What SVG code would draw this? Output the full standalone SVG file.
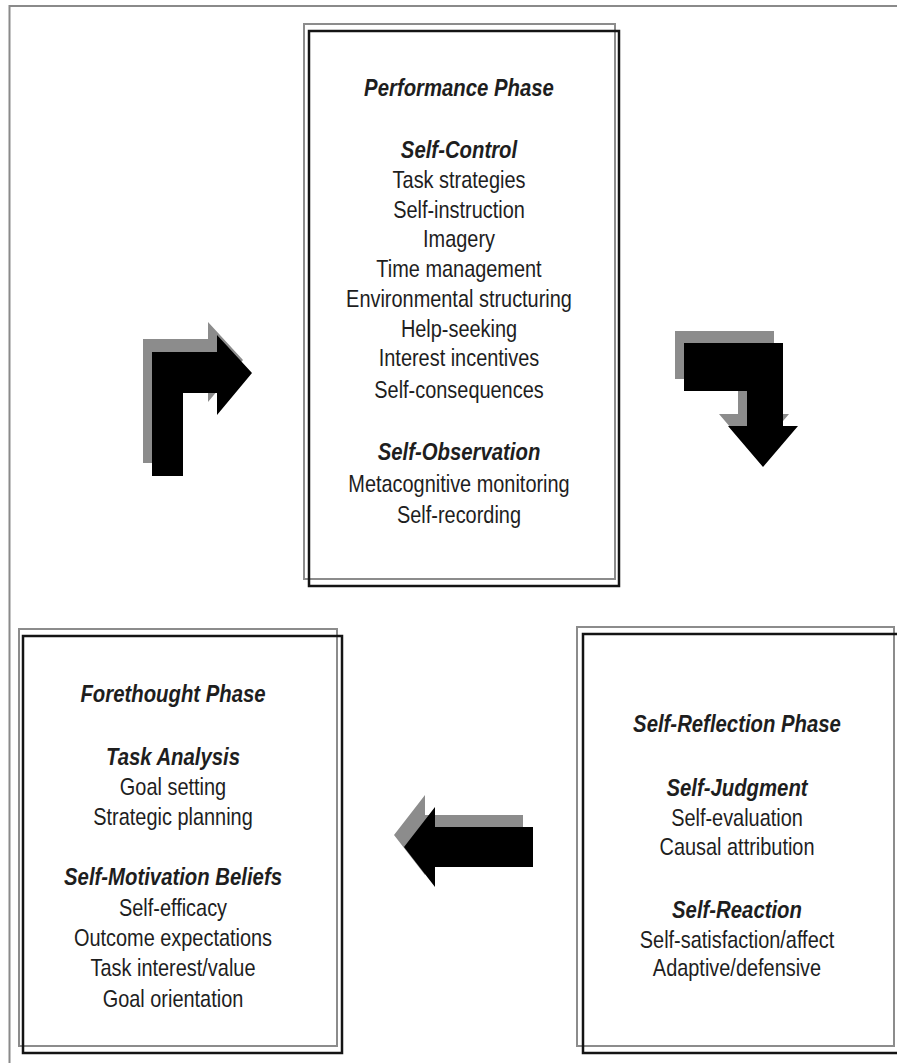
<svg xmlns="http://www.w3.org/2000/svg" xmlns:xlink="http://www.w3.org/1999/xlink" width="897" height="1063" viewBox="0 0 897 1063">
<style>
  text { font-family: "Liberation Sans", Arial, sans-serif; font-size: 24px; fill: #1e1e1e; text-anchor: middle; }
  .h { font-weight: bold; font-style: italic; font-size: 24.5px; }
  .frame { fill: none; stroke: #8a8a8a; stroke-width: 2; }
  .outer { fill: none; stroke: #8c8c8c; stroke-width: 2; }
  .inner { fill: none; stroke: #141414; stroke-width: 2.5; }
  .shadow { fill: #8c8c8c; }
  .arrow { fill: #000; }
</style>
<defs>
  <polygon id="a1" points="152,476 152,352 217,352 217,335 252,373 217,415 217,393 183,393 183,476"/>
  <polygon id="a2" points="684,343 783,343 783,426 798,426 763,467 728,426 747,426 747,391 684,391"/>
  <polygon id="a3" points="404,847 435,807 435,827 533,827 533,867 435,867 435,887"/>
</defs>
<rect width="897" height="1063" fill="#ffffff"/>
<polyline class="frame" points="9.5,1063 9.5,6 897,6"/>

<g id="performance">
  <rect class="outer" x="304" y="24" width="311" height="555"/>
  <rect class="inner" x="309" y="31" width="310" height="555"/>
  <g transform="translate(459 0) scale(0.83 1)">
    <text class="h" x="0" y="96">Performance Phase</text>
    <text class="h" x="0" y="158">Self-Control</text>
    <text x="0" y="188">Task strategies</text>
    <text x="0" y="218">Self-instruction</text>
    <text x="0" y="247">Imagery</text>
    <text x="0" y="277">Time management</text>
    <text x="0" y="307">Environmental structuring</text>
    <text x="0" y="337">Help-seeking</text>
    <text x="0" y="366">Interest incentives</text>
    <text x="0" y="398">Self-consequences</text>
    <text class="h" x="0" y="460">Self-Observation</text>
    <text x="0" y="492">Metacognitive monitoring</text>
    <text x="0" y="523">Self-recording</text>
  </g>
</g>

<g id="forethought">
  <rect class="outer" x="19" y="629" width="318" height="417"/>
  <rect class="inner" x="23" y="636" width="319" height="417"/>
  <g transform="translate(173 0) scale(0.83 1)">
    <text class="h" x="0" y="702">Forethought Phase</text>
    <text class="h" x="0" y="765">Task Analysis</text>
    <text x="0" y="795">Goal setting</text>
    <text x="0" y="825">Strategic planning</text>
    <text class="h" x="0" y="885">Self-Motivation Beliefs</text>
    <text x="0" y="916">Self-efficacy</text>
    <text x="0" y="946">Outcome expectations</text>
    <text x="0" y="976">Task interest/value</text>
    <text x="0" y="1007">Goal orientation</text>
  </g>
</g>

<g id="self-reflection">
  <rect class="outer" x="577" y="627" width="317" height="419"/>
  <rect class="inner" x="583" y="634" width="320" height="419"/>
  <g transform="translate(737 0) scale(0.83 1)">
    <text class="h" x="0" y="732">Self-Reflection Phase</text>
    <text class="h" x="0" y="796">Self-Judgment</text>
    <text x="0" y="826">Self-evaluation</text>
    <text x="0" y="855">Causal attribution</text>
    <text class="h" x="0" y="918">Self-Reaction</text>
    <text x="0" y="948">Self-satisfaction/affect</text>
    <text x="0" y="976">Adaptive/defensive</text>
  </g>
</g>

<g id="connectors">
  <g id="arrow-forethought-to-performance">
    <use xlink:href="#a1" href="#a1" class="shadow" transform="translate(-9,-13)"/>
    <use xlink:href="#a1" href="#a1" class="arrow"/>
  </g>
  <g id="arrow-performance-to-reflection">
    <use xlink:href="#a2" href="#a2" class="shadow" transform="translate(-9,-12)"/>
    <use xlink:href="#a2" href="#a2" class="arrow"/>
  </g>
  <g id="arrow-reflection-to-forethought">
    <use xlink:href="#a3" href="#a3" class="shadow" transform="translate(-10,-12)"/>
    <use xlink:href="#a3" href="#a3" class="arrow"/>
  </g>
</g>
</svg>
